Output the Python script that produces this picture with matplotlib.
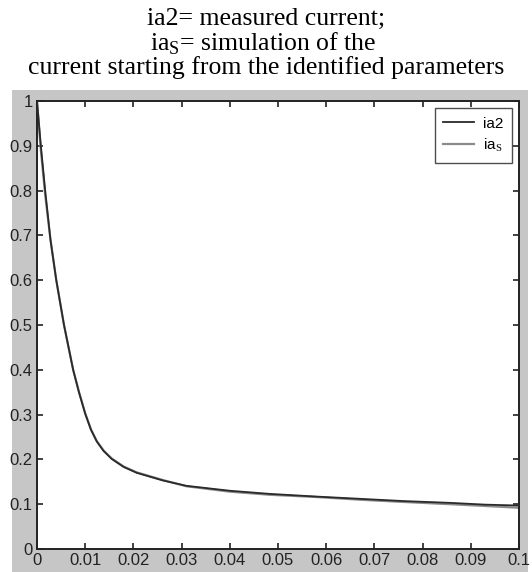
import matplotlib
matplotlib.use("Agg")
import matplotlib.pyplot as plt
from matplotlib.patches import Rectangle

plt.rcParams['mathtext.fontset'] = 'custom'
plt.rcParams['mathtext.rm'] = 'Liberation Serif'

# time axis (s) and current values
t_meas = [0, 0.0008, 0.0017, 0.0028, 0.0040, 0.0056, 0.0075, 0.0087, 0.0100, 0.0112, 0.0124,
          0.0138, 0.0155, 0.0180, 0.0207, 0.0261, 0.0310, 0.0400, 0.0483, 0.0580, 0.0670,
          0.0760, 0.0857, 0.0930, 0.1000]
ia2 = [1.0, 0.90, 0.80, 0.69, 0.60, 0.50, 0.40, 0.350, 0.302, 0.266, 0.240,
       0.219, 0.201, 0.183, 0.170, 0.153, 0.141, 0.130, 0.123, 0.117, 0.112,
       0.107, 0.103, 0.099, 0.097]
ia_s = [1.0, 0.89, 0.79, 0.69, 0.60, 0.50, 0.40, 0.351, 0.303, 0.267, 0.241,
        0.220, 0.202, 0.184, 0.171, 0.154, 0.140, 0.128, 0.121, 0.116, 0.110,
        0.105, 0.100, 0.096, 0.092]

xticks = [0, 0.01, 0.02, 0.03, 0.04, 0.05, 0.06, 0.07, 0.08, 0.09, 0.1]
xtick_labels = ['0', '0.01', '0.02', '0.03', '0.04', '0.05', '0.06', '0.07', '0.08', '0.09', '0.1']
yticks = [0, 0.1, 0.2, 0.3, 0.4, 0.5, 0.6, 0.7, 0.8, 0.9, 1]
ytick_labels = ['0', '0.1', '0.2', '0.3', '0.4', '0.5', '0.6', '0.7', '0.8', '0.9', '1']

W, H = 532, 572
fig = plt.figure(figsize=(W / 100, H / 100), dpi=100)
fig.patch.set_facecolor('white')

# grey matlab figure panel
fig.patches.append(Rectangle((12 / W, 0), (528 - 12) / W, (H - 90) / H,
                             transform=fig.transFigure, facecolor='#c6c6c6',
                             edgecolor='none', zorder=-5))

# caption lines
serif = ['Liberation Serif', 'DejaVu Serif']
fig.text(266 / W, 1 - 19 / H, 'ia2= measured current;', ha='center', va='center',
         fontsize=18.5, family=serif)
fig.text(263 / W, 1 - 44 / H, r'ia$_\mathrm{S}$= simulation of the', ha='center', va='center',
         fontsize=18.5, family=serif)
fig.text(266 / W, 1 - 68 / H, 'current starting from the identified parameters', ha='center',
         va='center', fontsize=18.5, family=serif)

ax = fig.add_axes([37 / W, 1 - 549 / H, (519 - 37) / W, (549 - 101) / H], zorder=2)
ax.set_facecolor('white')
ax.plot(t_meas, ia_s, color='#8a8a8a', lw=1.6, label=r'ia$_\mathrm{S}$', zorder=2)
ax.plot(t_meas, ia2, color='#2a2a2a', lw=1.3, label='ia2', zorder=3)

ax.set_xlim(0, 0.1)
ax.set_ylim(0, 1)
narrow = ['Liberation Sans Narrow', 'Liberation Sans']
ax.set_xticks(xticks)
ax.set_xticklabels(xtick_labels, family=narrow, fontsize=12)
ax.set_yticks(yticks)
ax.set_yticklabels(ytick_labels, family=narrow, fontsize=12)
ax.tick_params(direction='in', length=4, width=1.2, top=True, right=True,
               colors='#222222', pad=3)
for s in ax.spines.values():
    s.set_linewidth(1.4)
    s.set_color('#222222')

handles, labels = ax.get_legend_handles_labels()
leg = ax.legend(handles[::-1], labels[::-1], loc='upper right', bbox_to_anchor=(0.985, 0.984),
                borderaxespad=0, prop={'family': narrow, 'size': 11}, frameon=True,
                fancybox=False, handlelength=2.0, borderpad=0.55, labelspacing=0.4,
                handletextpad=0.6)
leg.get_frame().set_edgecolor('#222222')
leg.get_frame().set_linewidth(1.0)

fig.savefig('out.png', dpi=100)
